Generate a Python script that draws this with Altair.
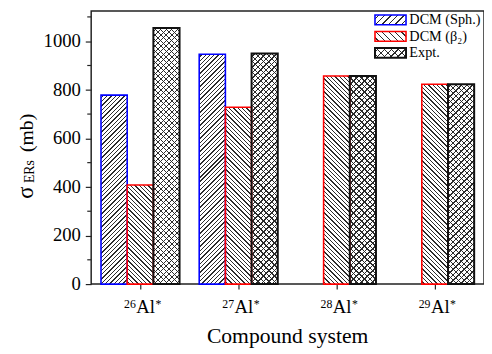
import altair as alt

# ---------------- data ----------------
systems = ["26", "27", "28", "29"]            # mass numbers of the compound systems
series = ["DCM (Sph.)", "DCM (β₂)", "Expt."]
sph = [778, 946, None, None]
beta2 = [408, 728, 857, 823]
expt = [1054, 949, 857, 823]
y_ticks = [0, 200, 400, 600, 800, 1000]
minor_ticks = [100, 300, 500, 700, 900, 1100]
x_title = "Compound system"

# ---------------- layout / style ----------------
W, H = 400, 278
YMAX = 1124
FONT = "Liberation Serif"
INK = "#2b2b2b"
CLEAR = "rgba(0,0,0,0)"
edge = {"DCM (Sph.)": "#0000ff", "DCM (β₂)": "#ff0000", "Expt.": "#111111"}
edge_w = {"DCM (Sph.)": 1.6, "DCM (β₂)": 1.6, "Expt.": 2.0}


def hatch(w, h, kind, period, lw, paper):
    """linear gradient that draws 45-degree stripes on a w x h box"""
    L = w + h
    s = L / (w * w + h * h)
    if kind == "/":
        x1, y1, x2, y2 = 0, 0, w * s, h * s
    else:
        x1, y1, x2, y2 = 0, 1, w * s, 1 - h * s
    stops = [{"offset": 0, "color": paper}]
    u = period * 0.5
    while u < L:
        a = round(u / L, 5)
        b = round(min((u + lw) / L, 1), 5)
        stops += [{"offset": a, "color": paper}, {"offset": a, "color": INK},
                  {"offset": b, "color": INK}, {"offset": b, "color": paper}]
        u += period
    stops.append({"offset": 1, "color": paper})
    return {"gradient": "linear", "x1": x1, "y1": y1, "x2": x2, "y2": y2, "stops": stops}


bar_w = W / 4 * 0.8 / 3
records = []
for name, vals in zip(series, [sph, beta2, expt]):
    for sys_, v in zip(systems, vals):
        if v is None:
            continue
        h = v * H / YMAX
        if name == "DCM (Sph.)":
            g1, g2 = hatch(bar_w, h, "/", 4.4, 1.35, "white"), None
        elif name == "DCM (β₂)":
            g1, g2 = hatch(bar_w, h, "\\", 4.4, 1.35, "white"), None
        else:
            g1 = hatch(bar_w, h, "/", 5.6, 1.3, "white")
            g2 = hatch(bar_w, h, "\\", 5.6, 1.3, CLEAR)
        records.append({"sys": sys_, "series": name, "value": v, "g1": g1, "g2": g2,
                        "col": edge[name], "sw": edge_w[name]})

bars_data = alt.Data(values=records)

x_axis = alt.Axis(title=None, labels=False, domain=False, grid=False,
                  ticks=True, tickSize=5, tickWidth=1.2, tickColor="#222")
y_axis = alt.Axis(values=y_ticks, title=None, labels=False, domain=False, grid=False,
                  tickSize=6, tickWidth=1.2, tickColor="#222")
x_scale = alt.Scale(domain=systems, paddingInner=0.2, paddingOuter=0.1)
y_scale = alt.Scale(domain=[0, YMAX], nice=False, zero=True)


def xenc():
    return alt.X("sys:N", scale=x_scale, axis=x_axis, sort=systems)


def yenc(field):
    return alt.Y(f"{field}:Q", scale=y_scale, axis=y_axis)


xoff = alt.XOffset("series:N", scale=alt.Scale(domain=series, paddingInner=0, paddingOuter=0))

base = alt.Chart(bars_data)
fill1 = base.mark_bar(strokeWidth=0).encode(
    x=xenc(), xOffset=xoff, y=yenc("value"),
    fill=alt.Fill("g1:N", scale=None))
fill2 = base.transform_filter(alt.datum.series == "Expt.").mark_bar(strokeWidth=0).encode(
    x=xenc(), xOffset=xoff, y=yenc("value"),
    fill=alt.Fill("g2:N", scale=None))
outline = base.mark_bar(filled=False).encode(
    x=xenc(), xOffset=xoff, y=yenc("value"),
    stroke=alt.Stroke("col:N", scale=None),
    strokeWidth=alt.StrokeWidth("sw:Q", scale=None))

minor = alt.Chart(alt.Data(values=[{"v": t} for t in minor_ticks])).mark_rule(
    color="#222", strokeWidth=1.2).encode(y=yenc("v"), x=alt.value(-4), x2=alt.value(0))

# y tick labels
ylab = alt.Chart(alt.Data(values=[{"v": t} for t in y_ticks])).mark_text(
    font=FONT, fontSize=19, align="right", baseline="middle", color="black").encode(
    y=yenc("v"), x=alt.value(-10.5), text=alt.Text("v:Q", format="d"))

# x tick labels  (superscript mass number, Al, superscript *)
sys_data = alt.Data(values=[{"sys": s} for s in systems])
lab_al = alt.Chart(sys_data).mark_text(text="Al", font=FONT, fontSize=19, align="left",
                                       baseline="alphabetic", dx=-4, color="black").encode(
    x=xenc(), y=alt.value(307.3))
lab_a = alt.Chart(sys_data).mark_text(font=FONT, fontSize=12, align="right",
                                      baseline="alphabetic", dx=-4.5, color="black").encode(
    x=xenc(), y=alt.value(302.3), text="sys:N")
lab_star = alt.Chart(sys_data).mark_text(text="*", font=FONT, fontSize=12, align="left",
                                         baseline="alphabetic", dx=15.5, color="black").encode(
    x=xenc(), y=alt.value(302))

one = alt.Data(values=[{"k": 0}])
t_x = alt.Chart(one).mark_text(text=x_title, font=FONT, fontSize=22, align="center",
                               baseline="alphabetic", color="black").encode(
    x=alt.value(W / 2), y=alt.value(337.7))

# y title: sigma with subscript ERs, then (mb)
t_sig = alt.Chart(one).mark_text(text="σ", font=FONT, fontSize=23, angle=270, align="center",
                                 baseline="alphabetic", color="black").encode(
    x=alt.value(-59.7), y=alt.value(185))
t_sub = alt.Chart(one).mark_text(text="ERs", font=FONT, fontSize=14, angle=270, align="center",
                                 baseline="alphabetic", color="black").encode(
    x=alt.value(-58.5), y=alt.value(163.5))
t_mb = alt.Chart(one).mark_text(text="(mb)", font=FONT, fontSize=20, angle=270, align="center",
                                baseline="alphabetic", color="black").encode(
    x=alt.value(-59.7), y=alt.value(124))

# legend
LX0, LX1 = 289, 320.6
legend_layers = []
tops = [4, 20.7, 37.5]
for i, name in enumerate(series):
    y0 = tops[i]
    y1 = y0 + 10
    pw, ph = LX1 - LX0, 10
    d = alt.Data(values=[{"label": name}])
    if name == "DCM (Sph.)":
        g = hatch(pw, ph, "/", 6.5, 1.3, "white")
    elif name == "DCM (β₂)":
        g = hatch(pw, ph, "\\", 6.5, 1.3, "white")
    else:
        g = hatch(pw, ph, "/", 7, 1.3, "white")
    legend_layers.append(alt.Chart(d).mark_rect(fill=g, strokeWidth=0).encode(
        x=alt.value(LX0), x2=alt.value(LX1), y=alt.value(y0), y2=alt.value(y1)))
    if name == "Expt.":
        g2 = hatch(pw, ph, "\\", 7, 1.3, CLEAR)
        legend_layers.append(alt.Chart(d).mark_rect(fill=g2, strokeWidth=0).encode(
            x=alt.value(LX0), x2=alt.value(LX1), y=alt.value(y0), y2=alt.value(y1)))
    legend_layers.append(alt.Chart(d).mark_rect(filled=False, stroke=edge[name],
                                                strokeWidth=edge_w[name]).encode(
        x=alt.value(LX0), x2=alt.value(LX1), y=alt.value(y0), y2=alt.value(y1)))
    txt = (" " + name) if name == "DCM (β₂)" else name
    legend_layers.append(alt.Chart(d).mark_text(text=txt, font=FONT, fontSize=14.5, align="left",
                                                baseline="alphabetic", color="black").encode(
        x=alt.value(324), y=alt.value(y0 + 9.5)))

chart = alt.layer(
    fill1, fill2, outline, minor, ylab, lab_al, lab_a, lab_star, t_x, t_sig, t_sub, t_mb,
    *legend_layers
).properties(
    width=W, height=H,
    padding={"left": 84.7, "top": 0, "right": 0, "bottom": 66},
    autosize=alt.AutoSizeParams(type="none"),
    background="white",
).configure_view(stroke="#222", strokeWidth=1.5)

chart.save("out.html", embed_options={"renderer": "svg", "actions": False})
